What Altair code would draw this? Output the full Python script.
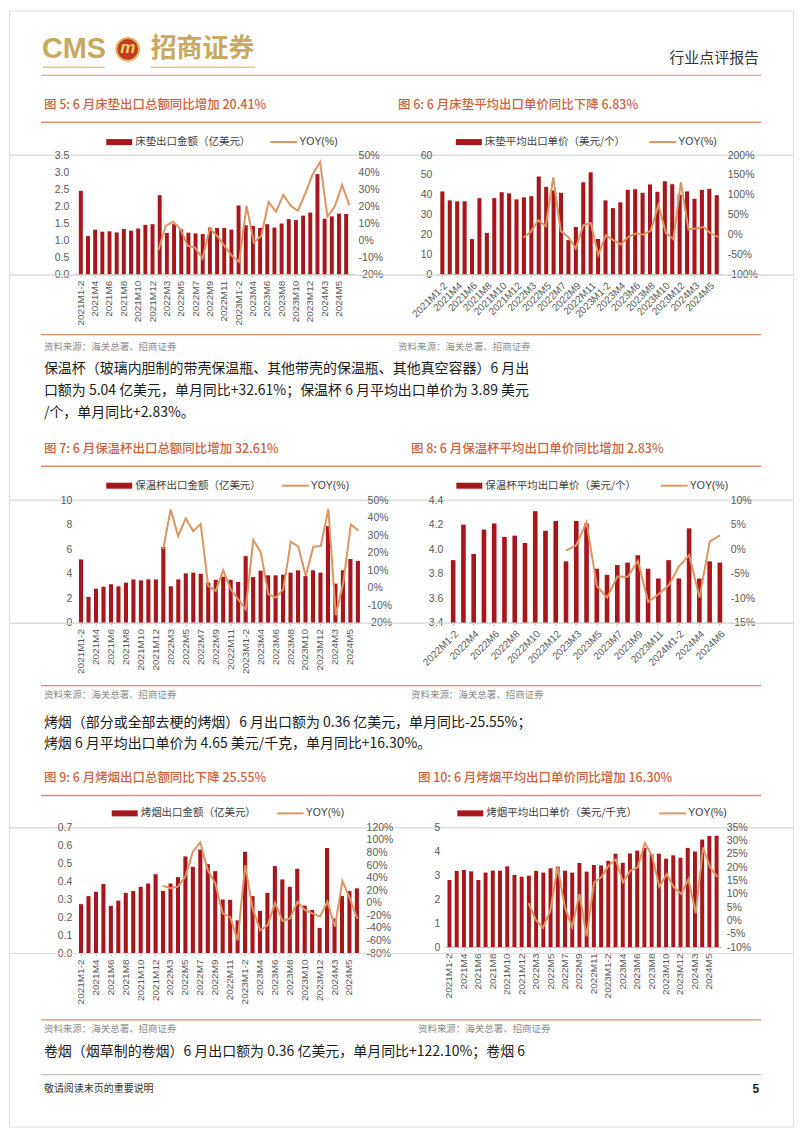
import altair as alt
import pandas as pd

# ---------------- data ----------------
cats_38 = ["2021M1-2", "2021M3", "2021M4", "2021M5", "2021M6", "2021M7", "2021M8", "2021M9",
           "2021M10", "2021M11", "2021M12",
           "2022M1-2", "2022M3", "2022M4", "2022M5", "2022M6", "2022M7", "2022M8", "2022M9",
           "2022M10", "2022M11", "2022M12",
           "2023M1-2", "2023M3", "2023M4", "2023M5", "2023M6", "2023M7", "2023M8", "2023M9",
           "2023M10", "2023M11", "2023M12",
           "2024M1-2", "2024M3", "2024M4", "2024M5", "2024M6"]
cats_27 = ["2022M1-2", "2022M3", "2022M4", "2022M5", "2022M6", "2022M7", "2022M8", "2022M9",
           "2022M10", "2022M11", "2022M12",
           "2023M1-2", "2023M3", "2023M4", "2023M5", "2023M6", "2023M7", "2023M8", "2023M9",
           "2023M10", "2023M11", "2023M12",
           "2024M1-2", "2024M3", "2024M4", "2024M5", "2024M6"]

mattress_amt = [2.45, 1.12, 1.31, 1.25, 1.26, 1.23, 1.33, 1.28, 1.34, 1.45, 1.47,
                2.32, 1.21, 1.47, 1.32, 1.22, 1.20, 1.18, 1.37, 1.36, 1.36, 1.31,
                2.02, 1.44, 1.42, 1.36, 1.47, 1.37, 1.49, 1.62, 1.59, 1.72, 1.81,
                2.94, 1.63, 1.70, 1.78, 1.77]
mattress_amt_yoy = [None, None, None, None, None, None, None, None, None, None, None,
                    -6.0, 8.4, 10.8, 6.5, -3.3, -4.3, -10.8, 6.9, 2.5, -3.3, -9.2,
                    -12.7, 20.2, -1.4, 2.5, 22.5, 16.7, 26.7, 20.2, 17.3, 27.6, 38.8,
                    46.0, 13.9, 19.8, 32.4, 20.41]

mattress_price = [41.7, 37.2, 36.7, 36.7, 17.7, 38.3, 20.8, 38.3, 41.3, 40.7, 37.7,
                  38.7, 39.3, 49.2, 44.0, 42.2, 41.0, 17.2, 23.8, 46.3, 51.3, 17.8,
                  37.2, 33.3, 36.2, 42.5, 42.8, 41.0, 45.2, 41.5, 46.8, 45.3, 40.0,
                  41.7, 38.0, 42.5, 43.0, 39.8]
mattress_price_yoy = [None, None, None, None, None, None, None, None, None, None, None,
                      -8.3, 6.7, 35.8, 20.8, 144.0, 8.5, -6.0, -35.0, 23.5, 29.0, -51.5,
                      -1.7, -14.0, -25.0, -5.8, 2.5, 0.0, 10.0, 75.0, 4.0, -11.7, 131.7,
                      13.3, 15.0, 19.0, 2.5, -6.83]

thermos_amt = [5.16, 2.09, 2.77, 2.93, 3.13, 2.96, 3.26, 3.53, 3.45, 3.53, 3.53,
               6.17, 2.96, 3.53, 4.02, 4.08, 3.99, 3.26, 3.50, 3.75, 3.50, 3.32,
               5.43, 3.72, 4.24, 3.86, 3.86, 3.91, 4.08, 4.27, 3.80, 4.27, 4.08,
               7.88, 3.18, 4.27, 5.19, 5.04]
thermos_amt_yoy = [None, None, None, None, None, None, None, None, None, None, None,
                   21.9, 44.7, 29.5, 39.5, 32.3, 36.3, 1.0, -1.9, 10.0, -1.0, -6.7,
                   -12.4, 27.2, 20.3, -3.8, -5.7, -1.0, 26.2, 23.4, 6.7, 23.4, 23.8,
                   45.0, -15.8, 2.9, 36.1, 32.61]

thermos_price = [3.91, 4.20, 3.96, 4.16, 4.21, 4.10, 4.11, 4.05, 4.31, 4.15, 4.23,
                 3.90, 4.23, 4.21, 3.84, 3.79, 3.87, 3.89, 3.95, 3.84, 3.76, 3.91,
                 3.76, 4.17, 3.76, 3.90, 3.89]
thermos_price_yoy = [None, None, None, None, None, None, None, None, None, None, None,
                     -0.3, 0.8, 5.5, -7.5, -9.9, -5.6, -5.7, -2.4, -10.8, -9.2, -7.4,
                     -3.5, -1.2, -9.9, 1.6, 2.83]

tobacco_amt = [0.272, 0.317, 0.341, 0.384, 0.263, 0.292, 0.335, 0.345, 0.369, 0.387, 0.439,
               0.346, 0.387, 0.423, 0.538, 0.480, 0.577, 0.495, 0.456, 0.298, 0.296, 0.182,
               0.564, 0.317, 0.235, 0.335, 0.484, 0.410, 0.369, 0.469, 0.264, 0.240, 0.140,
               0.585, 0.192, 0.318, 0.345, 0.36]
tobacco_amt_yoy = [None, None, None, None, None, None, None, None, None, None, None,
                   27.0, 23.0, 25.5, 41.5, 81.0, 96.0, 52.0, 31.0, -17.0, -23.0, -60.0,
                   60.0, -9.0, -44.0, -36.0, 0.0, -29.0, -25.0, 1.6, -12.0, -17.0, -22.0,
                   1.6, -38.0, 34.6, 7.0, -25.55]

tobacco_price = [2.80, 3.18, 3.22, 3.16, 2.80, 3.11, 3.19, 3.19, 3.37, 3.01, 2.94,
                 2.98, 3.18, 3.11, 3.29, 3.36, 3.19, 3.11, 3.51, 3.15, 3.43, 3.41,
                 3.60, 3.90, 3.52, 3.91, 4.03, 4.14, 3.87, 3.90, 3.69, 3.83, 3.73,
                 4.14, 3.99, 4.49, 4.64, 4.65]
tobacco_price_yoy = [None, None, None, None, None, None, None, None, None, None, None,
                     6.5, 0.2, -2.7, 3.7, 20.1, 5.0, -2.5, 10.0, -6.0, 14.3, 16.2,
                     20.5, 23.0, 14.3, 18.7, 19.9, 29.0, 24.3, 12.7, 17.4, 12.4, 10.0,
                     15.5, 2.7, 27.4, 19.9, 16.3]

# ---------------- style ----------------
RED = "#a8161b"
ORANGE = "#dc9560"
TITLE = "#cc6240"
RULEC = "#da8d72"
GOLD = "#c9a85f"
GREY = "#595959"
CJK = "Noto Sans CJK SC"
LAT = "Liberation Sans"
W = 786
ONE = pd.DataFrame({"k": [0]})


def txt(top, s, x, y, size, color, weight="normal", align="left", font=CJK, style="normal"):
    return alt.Chart(ONE).mark_text(text=s, fontSize=size, color=color, fontWeight=weight,
                                    align=align, baseline="middle", font=font,
                                    fontStyle=style).encode(x=alt.value(x - 8), y=alt.value(y - top))


def hrule(top, x1, x2, y, color, w=1.0):
    return alt.Chart(ONE).mark_rule(color=color, strokeWidth=w).encode(
        x=alt.value(x1 - 8), x2=alt.value(x2 - 8), y=alt.value(y - top))


def box(top, x1, x2, y1, y2, color):
    return alt.Chart(ONE).mark_rect(color=color).encode(
        x=alt.value(x1 - 8), x2=alt.value(x2 - 8), y=alt.value(y1 - top), y2=alt.value(y2 - top))


def legend(top, xr, label, xl, y):
    return [box(top, xr, xr + 26, y - 3, y + 3, RED),
            txt(top, label, xr + 29, y, 10.5, "#404040"),
            hrule(top, xl, xl + 27, y, ORANGE, 2),
            txt(top, "YOY(%)", xl + 29, y, 10.5, "#404040", font=LAT)]


def panel(H, cats, vals, yoy, px0, px1, ybot, ldom, lvals, lfmt, rdom, rvals, angle, pin, pout):
    """One bar+line chart placed inside a full-width row view (page x coords)."""
    x0, x1 = px0 - 8, px1 - 8
    df = pd.DataFrame({"cat": cats, "val": vals, "yoy": yoy})
    xscale = alt.Scale(range=[x0, x1], paddingInner=pin, paddingOuter=pout)
    xaxis = alt.Axis(title=None, orient="bottom", values=cats[::2], labelAngle=angle,
                     labelFontSize=10, labelFont=LAT, labelColor=GREY, labelPadding=3,
                     offset=-(H - ybot), domainColor="#bfbfbf", tickColor="#bfbfbf",
                     tickSize=3, labelOverlap=False, grid=False)
    bars = alt.Chart(df).mark_bar(color=RED).encode(
        x=alt.X("cat:N", sort=cats, scale=xscale, axis=xaxis),
        y=alt.Y("val:Q", scale=alt.Scale(domain=ldom, range=[ybot, 0], nice=False, zero=False),
                axis=alt.Axis(title=None, orient="left", values=lvals, format=lfmt, offset=-x0,
                              domain=False, ticks=False, grid=False, labelFontSize=10.5,
                              labelFont=LAT, labelColor=GREY, labelPadding=5)),
        y2=alt.datum(ldom[0]))
    line = alt.Chart(df).mark_line(color=ORANGE, strokeWidth=2).encode(
        x=alt.X("cat:N", sort=cats, scale=xscale, axis=None),
        y=alt.Y("yoy:Q", scale=alt.Scale(domain=rdom, range=[ybot, 0], nice=False, zero=False),
                axis=alt.Axis(title=None, orient="right", values=rvals, offset=-(W - x1),
                              labelExpr="datum.value + '%'", domain=False, ticks=False,
                              grid=False, labelFontSize=10.5, labelFont=LAT,
                              labelColor=GREY, labelPadding=5)))
    return [bars, line]


def row(H, left, right):
    return alt.layer(*left, *right).resolve_scale(x="independent", y="independent").resolve_axis(
        x="independent", y="independent").properties(width=W, height=H)


# ---------------- decor blocks ----------------
T1 = 8
decor1 = alt.layer(
    txt(T1, "CMS", 41, 47, 29, GOLD, weight="bold", font=LAT),
    hrule(T1, 42, 104, 65, "#dcc795", 1.5),
    alt.Chart(ONE).mark_circle(size=520, color="#c23b22", opacity=1, stroke="#e2b75a",
                               strokeWidth=2).encode(x=alt.value(127 - 8), y=alt.value(47 - T1)),
    txt(T1, "m", 127, 46, 17, "#f2cf6c", weight="bold", align="center", font=LAT, style="italic"),
    txt(T1, "招商证券", 150, 47, 26, GOLD, weight="bold"),
    hrule(T1, 150, 255, 65, "#dcc795", 1.5),
    txt(T1, "行业点评报告", 760, 56, 15, "#333333", align="right"),
    hrule(T1, 40, 762, 73, RULEC, 1.2),
    txt(T1, "图 5: 6 月床垫出口总额同比增加 20.41%", 43, 103, 12.5, TITLE, weight=500),
    txt(T1, "图 6: 6 月床垫平均出口单价同比下降 6.83%", 398, 103, 12.5, TITLE, weight=500),
    hrule(T1, 40, 762, 120, RULEC, 1.5),
    *legend(T1, 105.5, "床垫出口金额（亿美元）", 270, 140),
    *legend(T1, 456, "床垫平均出口单价（美元/个）", 650, 140),
).properties(width=W, height=152.5 - T1)

T2 = 272
decor2 = alt.layer(
    hrule(T2, 40, 762, 332, RULEC, 1.2),
    txt(T2, "资料来源：海关总署、招商证券", 43, 344, 9.5, "#8c8c8c"),
    txt(T2, "资料来源：海关总署、招商证券", 398, 344, 9.5, "#8c8c8c"),
    txt(T2, "保温杯（玻璃内胆制的带壳保温瓶、其他带壳的保温瓶、其他真空容器）6 月出", 43, 367, 14, "#1a1a1a"),
    txt(T2, "口额为 5.04 亿美元，单月同比+32.61%；保温杯 6 月平均出口单价为 3.89 美元", 43, 389, 14, "#1a1a1a"),
    txt(T2, "/个，单月同比+2.83%。", 43, 411, 14, "#1a1a1a"),
    txt(T2, "图 7: 6 月保温杯出口总额同比增加 32.61%", 43, 447, 12.5, TITLE, weight=500),
    txt(T2, "图 8: 6 月保温杯平均出口单价同比增加 2.83%", 411, 447, 12.5, TITLE, weight=500),
    hrule(T2, 40, 762, 464, RULEC, 1.5),
    *legend(T2, 105.5, "保温杯出口金额（亿美元）", 281.5, 483.5),
    *legend(T2, 456.5, "保温杯平均出口单价（美元/个）", 661.5, 483.5),
).properties(width=W, height=497.3 - T2)

T3 = 620
decor3 = alt.layer(
    hrule(T3, 40, 762, 683, RULEC, 1.2),
    txt(T3, "资料来源：海关总署、招商证券", 43, 692, 9.5, "#8c8c8c"),
    txt(T3, "资料来源：海关总署、招商证券", 411, 692, 9.5, "#8c8c8c"),
    txt(T3, "烤烟（部分或全部去梗的烤烟）6 月出口额为 0.36 亿美元，单月同比-25.55%；", 43, 720, 14, "#1a1a1a"),
    txt(T3, "烤烟 6 月平均出口单价为 4.65 美元/千克，单月同比+16.30%。", 43, 741, 14, "#1a1a1a"),
    txt(T3, "图 9: 6 月烤烟出口总额同比下降 25.55%", 43, 776, 12.5, TITLE, weight=500),
    txt(T3, "图 10: 6 月烤烟平均出口单价同比增加 16.30%", 418, 776, 12.5, TITLE, weight=500),
    hrule(T3, 40, 762, 793, RULEC, 1.5),
    *legend(T3, 111, "烤烟出口金额（亿美元）", 276.5, 811),
    *legend(T3, 457.5, "烤烟平均出口单价（美元/千克）", 660, 811),
).properties(width=W, height=825 - T3)

T4 = 951
decor4 = alt.layer(
    hrule(T4, 40, 762, 1018, RULEC, 1.2),
    txt(T4, "资料来源：海关总署、招商证券", 43, 1027, 9.5, "#8c8c8c"),
    txt(T4, "资料来源：海关总署、招商证券", 418, 1027, 9.5, "#8c8c8c"),
    txt(T4, "卷烟（烟草制的卷烟）6 月出口额为 0.36 亿美元，单月同比+122.10%；卷烟 6", 43, 1050, 14, "#1a1a1a"),
    hrule(T4, 40, 762, 1073, "#a0a0a0", 0.8),
    txt(T4, "敬请阅读末页的重要说明", 43, 1087, 10, "#333333"),
    txt(T4, "5", 760, 1087, 12, "#222222", weight="bold", align="right", font=LAT),
).properties(width=W, height=1125 - T4)

# ---------------- chart rows ----------------
H1, H2, H3 = 119.5, 122.7, 126
row1 = row(H1,
           panel(H1, cats_38, mattress_amt, mattress_amt_yoy, 73, 353, H1, [0, 3.5],
                 [0, 0.5, 1.0, 1.5, 2.0, 2.5, 3.0, 3.5], ".1f", [-20, 50],
                 [-20, -10, 0, 10, 20, 30, 40, 50], -90, 0.45, 0.7),
           panel(H1, cats_38, mattress_price, mattress_price_yoy, 437, 723, H1, [0, 60],
                 [0, 10, 20, 30, 40, 50, 60], "d", [-100, 200],
                 [-100, -50, 0, 50, 100, 150, 200], -45, 0.45, 0.46))
row2 = row(H2,
           panel(H2, cats_38, thermos_amt, thermos_amt_yoy, 76, 362, H2, [0, 10],
                 [0, 2, 4, 6, 8, 10], "d", [-20, 50],
                 [-20, -10, 0, 10, 20, 30, 40, 50], -90, 0.45, 0.29),
           panel(H2, cats_27, thermos_price, thermos_price_yoy, 448, 726, H2, [3.4, 4.4],
                 [3.4, 3.6, 3.8, 4.0, 4.2, 4.4], ".1f", [-15, 10],
                 [-15, -10, -5, 0, 5, 10], -45, 0.55, 0.29))
row3 = row(H3,
           panel(H3, cats_38, tobacco_amt, tobacco_amt_yoy, 76, 361, H3, [0, 0.7],
                 [0, 0.1, 0.2, 0.3, 0.4, 0.5, 0.6, 0.7], ".1f", [-80, 120],
                 [-80, -60, -40, -20, 0, 20, 40, 60, 80, 100, 120], -90, 0.45, 0.29),
           panel(H3, cats_38, tobacco_price, tobacco_price_yoy, 445, 722, 120, [0, 5],
                 [0, 1, 2, 3, 4, 5], "d", [-10, 35],
                 [-10, -5, 0, 5, 10, 15, 20, 25, 30, 35], -90, 0.45, 0.36))

chart = alt.vconcat(decor1, row1, decor2, row2, decor3, row3, decor4,
                    spacing=0, bounds="flush").properties(padding=0)
chart = chart.configure_view(stroke=None).configure(background="white")

chart.save("out.html", embed_options={"renderer": "svg", "actions": False})
